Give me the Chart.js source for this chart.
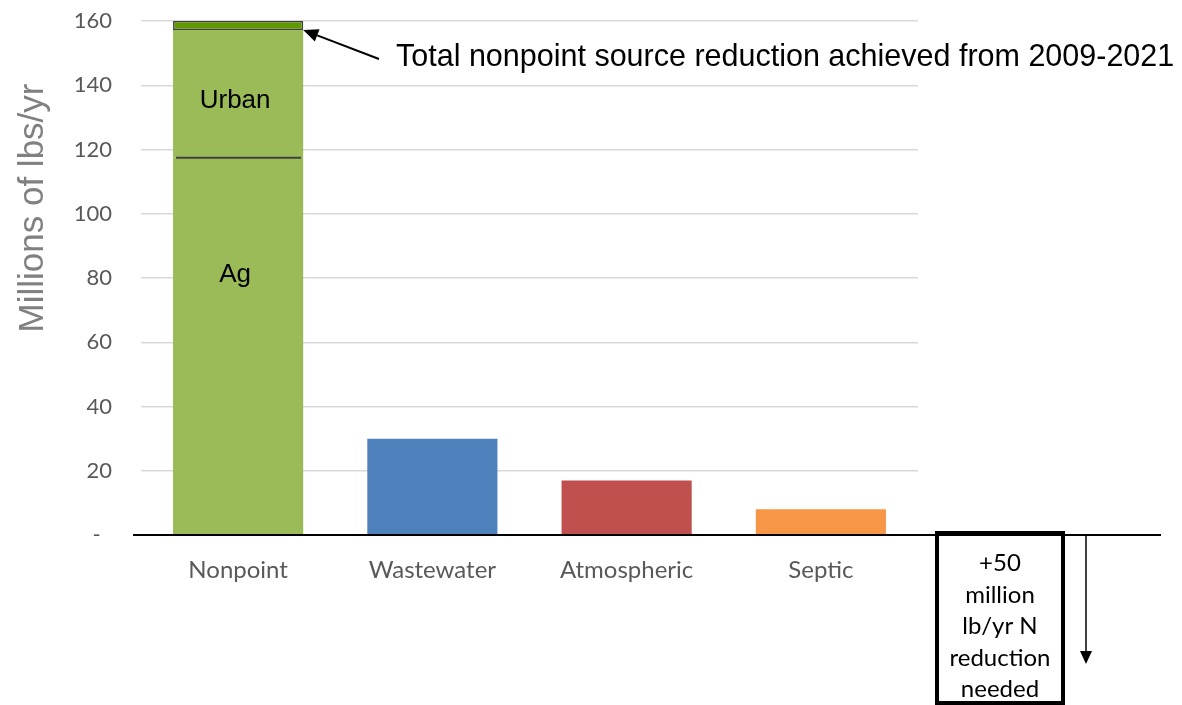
<!DOCTYPE html>
<html>
<head>
<meta charset="utf-8">
<script src="https://cdn.jsdelivr.net/npm/chart.js@4.4.1/dist/chart.umd.min.js"></script>
<style>
    html, body { margin: 0; padding: 0; background: #fff; }
    #wrap { width: 1182px; height: 705px; position: relative; }
</style>
</head>
<body>
<div id="wrap"><canvas id="reduccionChart"></canvas></div>
<script>
// ===== Datos (millones de lb/año) =====
const categorias = ['Nonpoint', 'Wastewater', 'Atmospheric', 'Septic'];
const agricola = [117.4, null, null, null];
const urbano = [39.8, null, null, null];
const logrado = [2.8, null, null, null];
const otrasFuentes = [null, 30, 17, 8];
const coloresFuentes = ['#9BBB59', '#4F81BD', '#C0504D', '#F79646'];
const tituloEjeY = 'Millions of lbs/yr';
const notaLogrado = 'Total nonpoint source reduction achieved from 2009-2021';
const notaNecesaria = ['+50', 'million', 'lb/yr N', 'reduction', 'needed'];

const GRIS = '#595959';

// Flechas con punta rellena
function flecha(ctx, x1, y1, x2, y2, largo, ancho) {
    const ang = Math.atan2(y2 - y1, x2 - x1);
    const bx = x2 - largo * Math.cos(ang);
    const by = y2 - largo * Math.sin(ang);
    ctx.beginPath();
    ctx.moveTo(x1, y1);
    ctx.lineTo(bx, by);
    ctx.stroke();
    ctx.beginPath();
    ctx.moveTo(x2, y2);
    ctx.lineTo(bx + ancho / 2 * Math.sin(ang), by - ancho / 2 * Math.cos(ang));
    ctx.lineTo(bx - ancho / 2 * Math.sin(ang), by + ancho / 2 * Math.cos(ang));
    ctx.closePath();
    ctx.fill();
}

const anotaciones = {
    id: 'anotaciones',
    afterDraw(chart) {
        const { ctx, scales: { y } } = chart;
        const ag = chart.getDatasetMeta(0).data[0];
        const urb = chart.getDatasetMeta(1).data[0];
        const cap = chart.getDatasetMeta(2).data[0];
        const y0 = y.getPixelForValue(0);

        ctx.save();

        // división Ag / Urban
        ctx.strokeStyle = '#404040';
        ctx.lineWidth = 2;
        ctx.beginPath();
        ctx.moveTo(ag.x - ag.width / 2 + 3, ag.y);
        ctx.lineTo(ag.x + ag.width / 2 - 2, ag.y);
        ctx.stroke();

        // etiquetas dentro de la barra
        ctx.fillStyle = '#000';
        ctx.font = '26px "Liberation Sans", Arial, sans-serif';
        ctx.textAlign = 'center';
        ctx.textBaseline = 'middle';
        ctx.fillText('Urban', ag.x - 3, y.getPixelForValue(135));
        ctx.fillText('Ag', ag.x - 3, y.getPixelForValue(81));

        // nota y flecha hacia el tope de la barra
        ctx.font = '30.5px "Liberation Sans", Arial, sans-serif';
        ctx.textAlign = 'left';
        ctx.textBaseline = 'alphabetic';
        ctx.fillText(notaLogrado, 396, 66);
        ctx.strokeStyle = '#000';
        ctx.lineWidth = 2;
        flecha(ctx, 379, 59, cap.x + cap.width / 2, urb.y, 15, 13);

        // eje x extendido
        ctx.strokeStyle = '#000';
        ctx.lineWidth = 2;
        ctx.beginPath();
        ctx.moveTo(133, y0);
        ctx.lineTo(1161, y0);
        ctx.stroke();

        // recuadro de reducción pendiente
        ctx.lineWidth = 4;
        ctx.strokeRect(937, 533, 126, 170);
        ctx.fillStyle = '#000';
        ctx.font = '24px Lato, "Open Sans", sans-serif';
        ctx.textAlign = 'center';
        notaNecesaria.forEach((t, i) => ctx.fillText(t, 1000, 571 + i * 31.5));

        ctx.lineWidth = 1.5;
        flecha(ctx, 1086, y0, 1086, 664, 13, 12);

        // título eje y
        ctx.translate(33, 208);
        ctx.rotate(-Math.PI / 2);
        ctx.fillStyle = '#808080';
        ctx.font = '35px "Liberation Sans", Arial, sans-serif';
        ctx.textAlign = 'center';
        ctx.textBaseline = 'middle';
        ctx.fillText(tituloEjeY, 0, 0);

        ctx.restore();
    }
};

new Chart(document.getElementById('reduccionChart'), {
    type: 'bar',
    data: {
        labels: categorias,
        datasets: [
            { label: 'Ag', data: agricola, backgroundColor: '#9BBB59' },
            { label: 'Urban', data: urbano, backgroundColor: '#9BBB59' },
            { label: '2009-2021', data: logrado, backgroundColor: '#609900', borderColor: '#404040', borderWidth: 1.5, borderSkipped: false },
            { label: 'Fuentes', data: otrasFuentes, backgroundColor: coloresFuentes }
        ]
    },
    options: {
        responsive: true,
        maintainAspectRatio: false,
        animation: false,
        layout: { padding: { top: 21, right: 264, left: 0, bottom: 0 } },
        datasets: { bar: { barPercentage: 0.67, categoryPercentage: 1 } },
        plugins: { legend: { display: false }, tooltip: { enabled: false } },
        scales: {
            x: {
                stacked: true,
                grid: { display: false },
                border: { display: false },
                ticks: { color: GRIS, font: { family: 'Lato', size: 24 }, padding: 13 },
                afterFit: s => { s.height = 170; }
            },
            y: {
                stacked: true,
                min: 0,
                max: 160,
                border: { display: false },
                // marcas invisibles: separan las etiquetas sin inflar el margen superior
                grid: { color: '#D9D9D9', lineWidth: 1.5, drawTicks: true, tickLength: 27, tickColor: 'rgba(0,0,0,0)' },
                ticks: {
                    stepSize: 20,
                    color: GRIS,
                    font: { family: 'Lato', size: 22 },
                    padding: 2,
                    callback: v => v === 0 ? '-  ' : v
                },
                afterFit: s => { s.width = 141; }
            }
        }
    },
    plugins: [anotaciones]
});
</script>
</body>
</html>
